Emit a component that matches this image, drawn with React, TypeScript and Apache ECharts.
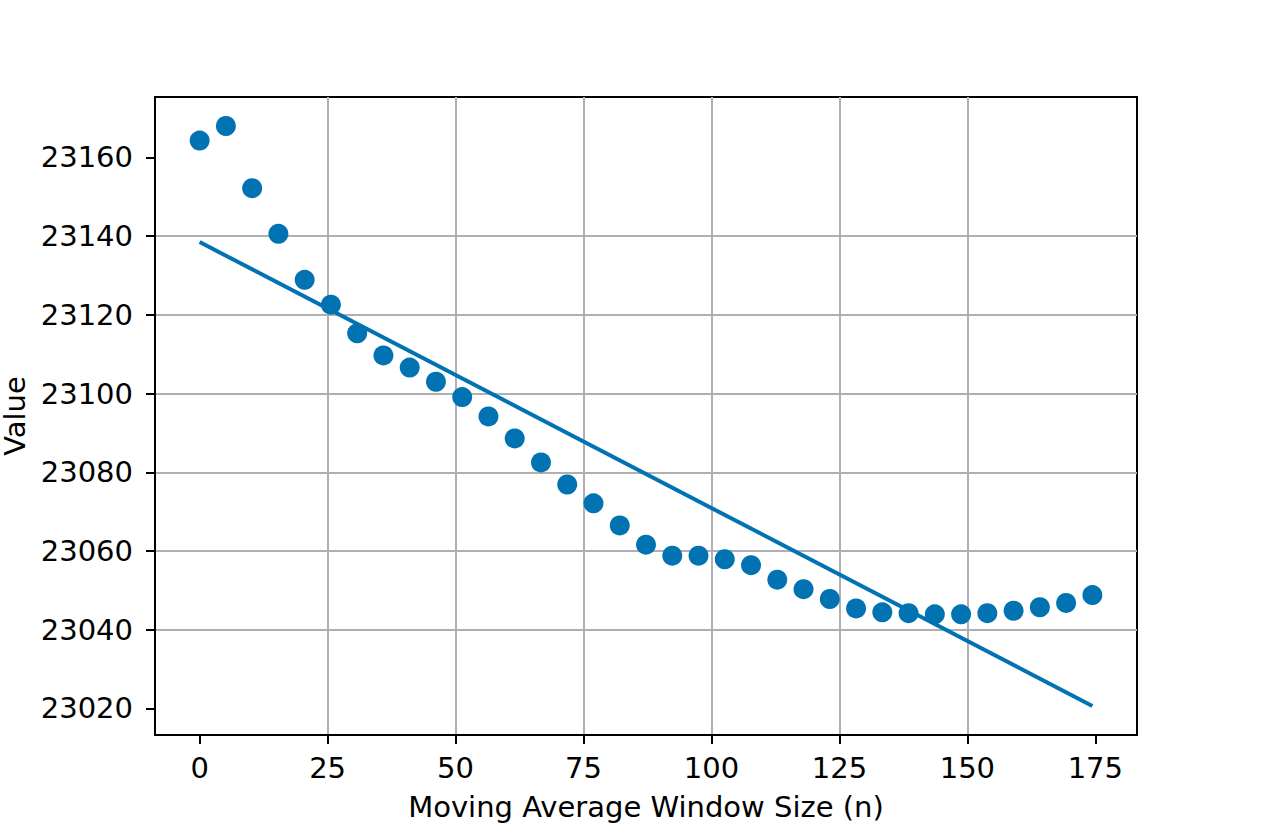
import React, { useEffect, useRef } from "react";
import * as echarts from "echarts";

const windowSizes = [
  0, 5.13, 10.26, 15.39, 20.52, 25.65, 30.78, 35.91, 41.04, 46.17, 51.3, 56.43,
  61.56, 66.69, 71.82, 76.95, 82.08, 87.21, 92.34, 97.47, 102.6, 107.73, 112.86,
  117.99, 123.12, 128.25, 133.38, 138.51, 143.64, 148.77, 153.9, 159.03, 164.16,
  169.29, 174.42,
];
const values = [
  23164.3, 23168.0, 23152.2, 23140.6, 23128.9, 23122.6, 23115.3, 23109.7,
  23106.6, 23103.0, 23099.1, 23094.2, 23088.6, 23082.5, 23076.9, 23072.1,
  23066.5, 23061.6, 23058.8, 23058.8, 23057.9, 23056.4, 23052.7, 23050.3,
  23047.8, 23045.4, 23044.4, 23044.2, 23043.9, 23043.9, 23044.2, 23044.8,
  23045.7, 23046.8, 23048.8,
];
const trendX = [0, 174.42];
const trendY = [23138.5, 23020.6];
const xTicks = [0, 25, 50, 75, 100, 125, 150, 175];
const yTicks = [23020, 23040, 23060, 23080, 23100, 23120, 23140, 23160];

const BLUE = "#0173b2";
const FONT = "DejaVu Sans";
const FS = 29;

export default function App() {
  const ref = useRef<HTMLDivElement>(null);
  useEffect(() => {
    if (!ref.current) return;
    const chart = echarts.init(ref.current, undefined, { renderer: "svg" });
    const allX = [...windowSizes, ...trendX];
    const allY = [...values, ...trendY];
    const xmin0 = Math.min(...allX), xmax0 = Math.max(...allX);
    const ymin0 = Math.min(...allY), ymax0 = Math.max(...allY);
    const xm = (xmax0 - xmin0) * 0.05;
    const ym = (ymax0 - ymin0) * 0.05;
    const axisCommon = {
      axisLine: { show: true, onZero: false, lineStyle: { color: "#000", width: 2 } },
      axisTick: { show: true, length: 9, lineStyle: { color: "#000", width: 2 } },
      splitLine: {
        show: true,
        showMinLine: false,
        showMaxLine: false,
        lineStyle: { color: "#b0b0b0", width: 2 },
      },
    };
    chart.setOption({
      animation: false,
      backgroundColor: "#fff",
      grid: {
        left: 155,
        top: 97,
        right: 126,
        bottom: 105,
        containLabel: false,
        outerBoundsMode: "none",
        show: true,
        borderColor: "#000",
        borderWidth: 2,
        backgroundColor: "transparent",
      },
      xAxis: {
        type: "value",
        min: xmin0 - xm,
        max: xmax0 + xm,
        ...axisCommon,
        axisTick: { ...axisCommon.axisTick, customValues: xTicks },
        axisLabel: {
          customValues: xTicks,
          formatter: (v: number) => String(v),
          fontFamily: FONT,
          fontSize: FS,
          color: "#000",
          margin: 18,
        },
        name: "Moving Average Window Size (n)",
        nameLocation: "middle",
        nameGap: 57,
        nameTextStyle: { fontFamily: FONT, fontSize: FS, color: "#000" },
      },
      yAxis: {
        type: "value",
        min: ymin0 - ym,
        max: ymax0 + ym,
        ...axisCommon,
        axisTick: { ...axisCommon.axisTick, customValues: yTicks },
        axisLabel: {
          customValues: yTicks,
          formatter: (v: number) => String(v),
          fontFamily: FONT,
          fontSize: FS,
          color: "#000",
          margin: 22,
        },
        name: "Value",
        nameLocation: "middle",
        nameGap: 126,
        nameTextStyle: { fontFamily: FONT, fontSize: FS, color: "#000", lineHeight: 22 },
      },
      series: [
        {
          type: "line",
          data: trendX.map((x, i) => [x, trendY[i]]),
          showSymbol: false,
          lineStyle: { color: BLUE, width: 4 },
          z: 3,
        },
        {
          type: "scatter",
          data: windowSizes.map((x, i) => [x, values[i]]),
          symbol: "circle",
          symbolSize: 20,
          itemStyle: { color: BLUE, opacity: 1 },
          z: 2,
        },
      ],
    });
    return () => chart.dispose();
  }, []);
  return (
    <div
      ref={ref}
      style={{ position: "fixed", left: 0, top: 0, width: 1263, height: 840 }}
    />
  );
}
